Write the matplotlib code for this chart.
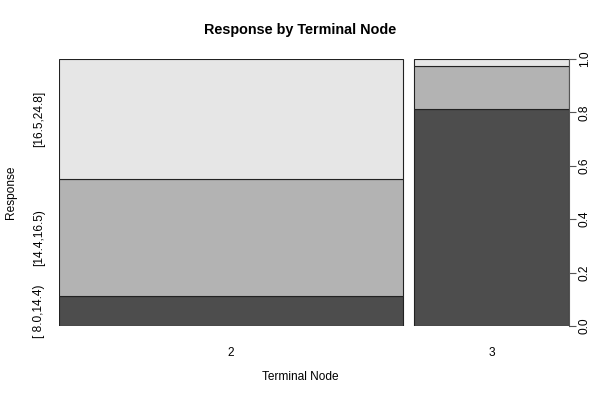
import numpy as np
import matplotlib
matplotlib.use("Agg")
import matplotlib.pyplot as plt

plt.rcParams['font.family'] = ['Liberation Sans', 'DejaVu Sans']

# terminal nodes and their relative sizes (bar widths)
nodes = ['2', '3']
node_share = [0.689, 0.311]
# response categories, bottom to top
categories = ['[ 8.0,14.4)', '[14.4,16.5)', '[16.5,24.8]']
# conditional proportions per node, bottom to top
props = {
    '2': [0.112, 0.439, 0.449],
    '3': [0.813, 0.161, 0.026],
}
colors = ['#4d4d4d', '#b3b3b3', '#e6e6e6']
gap = 0.022

fig = plt.figure(figsize=(6, 4), dpi=100)
ax = fig.add_axes([59/600, 1 - 326/400, 510/600, 267/400])

x0 = 0.0
centers = []
for n, w in zip(nodes, node_share):
    bottom = 0.0
    for p, c in zip(props[n], colors):
        ax.bar(x0, p, width=w, bottom=bottom, align='edge', color=c,
               edgecolor='#222222', linewidth=0.8)
        bottom += p
    centers.append(x0 + w / 2)
    x0 += w + gap

ax.set_xlim(0, x0 - gap)
ax.set_ylim(0, 1)
for s in ax.spines.values():
    s.set_visible(False)

# x axis labels, no ticks
ax.set_xticks(centers)
ax.set_xticklabels(nodes, fontsize=8.6)
ax.tick_params(axis='x', length=0, pad=15)

# left axis: category names at the middle of the first bar's segments
p0 = np.array(props[nodes[0]])
mids = np.cumsum(p0) - p0 / 2
ax.set_yticks(mids)
ax.set_yticklabels(categories, fontsize=8.6, rotation=90, va='center')
ax.tick_params(axis='y', length=0, pad=10)

# right axis with proportions
ax2 = ax.twinx()
ax2.set_ylim(0, 1)
ax2.set_yticks(np.arange(0, 1.01, 0.2))
ax2.set_yticklabels(['0.0', '0.2', '0.4', '0.6', '0.8', '1.0'],
                    fontsize=8.6, rotation=90, va='center')
ax2.tick_params(axis='y', length=5, width=0.8, pad=2, color='#555555')
for k, s in ax2.spines.items():
    s.set_visible(k == 'right')
ax2.spines['right'].set_color('#555555')
ax2.spines['right'].set_linewidth(0.8)

fig.text(0.5, 1 - 30/400, 'Response by Terminal Node', ha='center',
         va='center', fontsize=10.4, fontweight='bold')
fig.text(0.5, 1 - 377/400, 'Terminal Node', ha='center', va='center',
         fontsize=8.6)
fig.text(11/600, 1 - 192/400, 'Response', ha='center', va='center',
         rotation=90, fontsize=8.6)

fig.savefig('out.png', dpi=100)
